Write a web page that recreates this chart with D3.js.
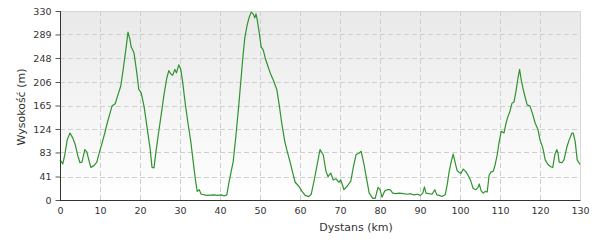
<!DOCTYPE html>
<html><head><meta charset="utf-8">
<script src="https://cdn.jsdelivr.net/npm/d3@7"></script>
<style>body{margin:0;background:#fff}svg{display:block}text{font-family:"DejaVu Sans",Verdana,sans-serif;fill:#333}</style>
</head><body><svg id="c" width="600" height="240"></svg>
<script>
const distance = [0,0.7,1.2,1.8,2.5,3.2,3.8,4.5,5,5.5,6.2,6.7,7.2,7.7,8.5,9.2,9.8,10.5,11.2,11.8,12.4,13,13.8,14.5,15.2,15.8,16.5,17,17.5,17.8,18.5,19.2,19.7,20.3,21,21.5,22,22.5,23,23.5,24,24.7,25.3,26,26.7,27.2,27.7,28.2,28.7,29.1,29.7,30.2,30.7,31.3,32,32.7,33.3,33.9,34.3,34.8,35.3,36.8,38.5,39.3,40.3,41,41.7,42.3,43.3,44,44.7,45.2,45.7,46.2,46.8,47.3,47.8,48.3,48.7,49,49.3,49.8,50.3,50.8,51.3,52,52.7,53.3,54.2,54.8,55.5,56.2,56.8,57.5,58.2,58.8,59.7,60.5,61.3,62.2,62.8,63.5,64.3,65,65.8,66.5,67,67.7,68.3,69,69.7,70.2,71,71.8,72.7,73.3,74,74.8,75.3,76,76.7,77.3,78.2,78.8,79.5,80,80.5,81.2,81.8,82.5,83.2,84,84.8,85.8,86.8,87.6,88.5,89.3,90.1,90.7,91.1,91.5,92.2,93,93.7,94.2,94.8,95.5,96.3,96.8,97.3,97.8,98.3,98.8,99.3,100.2,100.8,101.5,102.2,102.7,103.3,104,104.5,104.8,105.3,105.8,106.3,106.8,107.3,107.8,108.3,108.8,109.3,109.8,110.3,111,111.5,112,112.5,113,113.5,114,114.5,114.9,115.3,115.8,116.3,116.8,117.5,118.2,118.8,119.5,120,120.7,121.3,122,122.7,123.2,123.7,124.2,124.5,124.8,125.5,126,126.7,127.3,128,128.3,128.8,129.3,130];
const elevation = [70,63,79,105,117,108,97,76,65,66,88,84,70,57,60,66,82,99,117,134,149,164,168,184,199,228,265,293,280,267,257,222,193,187,164,140,115,91,57,56,85,120,149,184,213,226,220,218,228,222,236,228,204,169,134,102,67,33,15,18,10,8,9,8,9,7,9,33,67,114,166,207,248,283,306,319,328,325,318,325,315,292,267,262,248,233,219,210,193,166,131,102,85,67,47,31,24,15,8,6,10,33,62,88,79,50,41,47,35,37,31,35,18,24,33,56,79,82,85,62,35,12,3,3,22,18,5,16,18,18,12,11,12,11,10,11,9,10,8,12,23,12,11,10,18,9,8,6,9,27,50,67,80,65,51,46,54,49,41,33,20,18,22,28,16,12,15,14,44,49,50,62,79,102,120,117,134,146,155,169,171,190,213,228,210,193,179,166,164,149,134,123,105,91,70,62,58,57,79,88,82,66,65,70,92,105,117,117,102,70,62];
const yTicks = [0,41,83,124,165,206,248,289,330];
const xTicks = [0,10,20,30,40,50,60,70,80,90,100,110,120,130];
const xTitle = "Dystans (km)";
const yTitle = "Wysokość (m)";

const svg = d3.select("#c");
const L = 60, R = 580, T = 11, B = 200;
const x = d3.scaleLinear().domain([0,130]).range([L,R]);
const y = d3.scaleLinear().domain([0,330]).range([B,T]);

const defs = svg.append("defs");
const g = defs.append("linearGradient").attr("id","bg").attr("x1",0).attr("y1",0).attr("x2",0).attr("y2",1);
g.append("stop").attr("offset","0%").attr("stop-color","#e9e9e9");
g.append("stop").attr("offset","100%").attr("stop-color","#ffffff");
svg.append("rect").attr("x",L).attr("y",T).attr("width",R-L).attr("height",B-T).attr("fill","url(#bg)");

// grid
svg.append("g").selectAll("line").data(yTicks.filter(d=>d>0&&d<330)).join("line")
  .attr("x1",L).attr("x2",R).attr("y1",d=>Math.round(y(d))+0.5).attr("y2",d=>Math.round(y(d))+0.5)
  .attr("stroke","#cfcfcf").attr("stroke-dasharray","5,3");
svg.append("g").selectAll("line").data(xTicks.filter(d=>d>0&&d<130)).join("line")
  .attr("y1",T).attr("y2",B).attr("x1",d=>x(d)+0.5).attr("x2",d=>x(d)+0.5)
  .attr("stroke","#cfcfcf").attr("stroke-dasharray","5,3");
// border top/right
svg.append("path").attr("d",`M${L},${T+0.5}H${R+0.5}V${B}`).attr("fill","none").attr("stroke","#d8d8d8");

// line
svg.append("path").datum(distance.map((d,i)=>[d,elevation[i]]))
  .attr("d",d3.line().x(d=>x(d[0])).y(d=>y(d[1])))
  .attr("fill","none").attr("stroke","#2f922f").attr("stroke-width",1.2).attr("stroke-linejoin","round");

// axes
const ya = svg.append("g").attr("transform",`translate(${L+0.5},0)`)
  .call(d3.axisLeft(y).tickValues(yTicks).tickSize(5).tickPadding(4).tickFormat(d3.format("d")));
ya.select(".domain").attr("stroke","#333").attr("d",`M0,${T}V${B}`);
ya.selectAll(".tick line").attr("stroke","#555");
ya.selectAll("text").attr("font-size","9.5px").style("font-family","DejaVu Sans").attr("fill","#333");

const xa = svg.append("g").attr("transform",`translate(0,${B+0.5})`)
  .call(d3.axisBottom(x).tickValues(xTicks).tickSize(0).tickPadding(7).tickFormat(d3.format("d")));
xa.select(".domain").attr("stroke","#333").attr("d",`M${L},0H${R+0.5}`);
xa.selectAll("text").attr("font-size","9.5px").style("font-family","DejaVu Sans").attr("fill","#333");

svg.append("text").attr("x",356).attr("y",231).attr("text-anchor","middle").attr("font-size","11px").text(xTitle);
svg.append("text").attr("transform","translate(25,107) rotate(-90)").attr("text-anchor","middle").attr("font-size","11px").text(yTitle);
</script></body></html>
